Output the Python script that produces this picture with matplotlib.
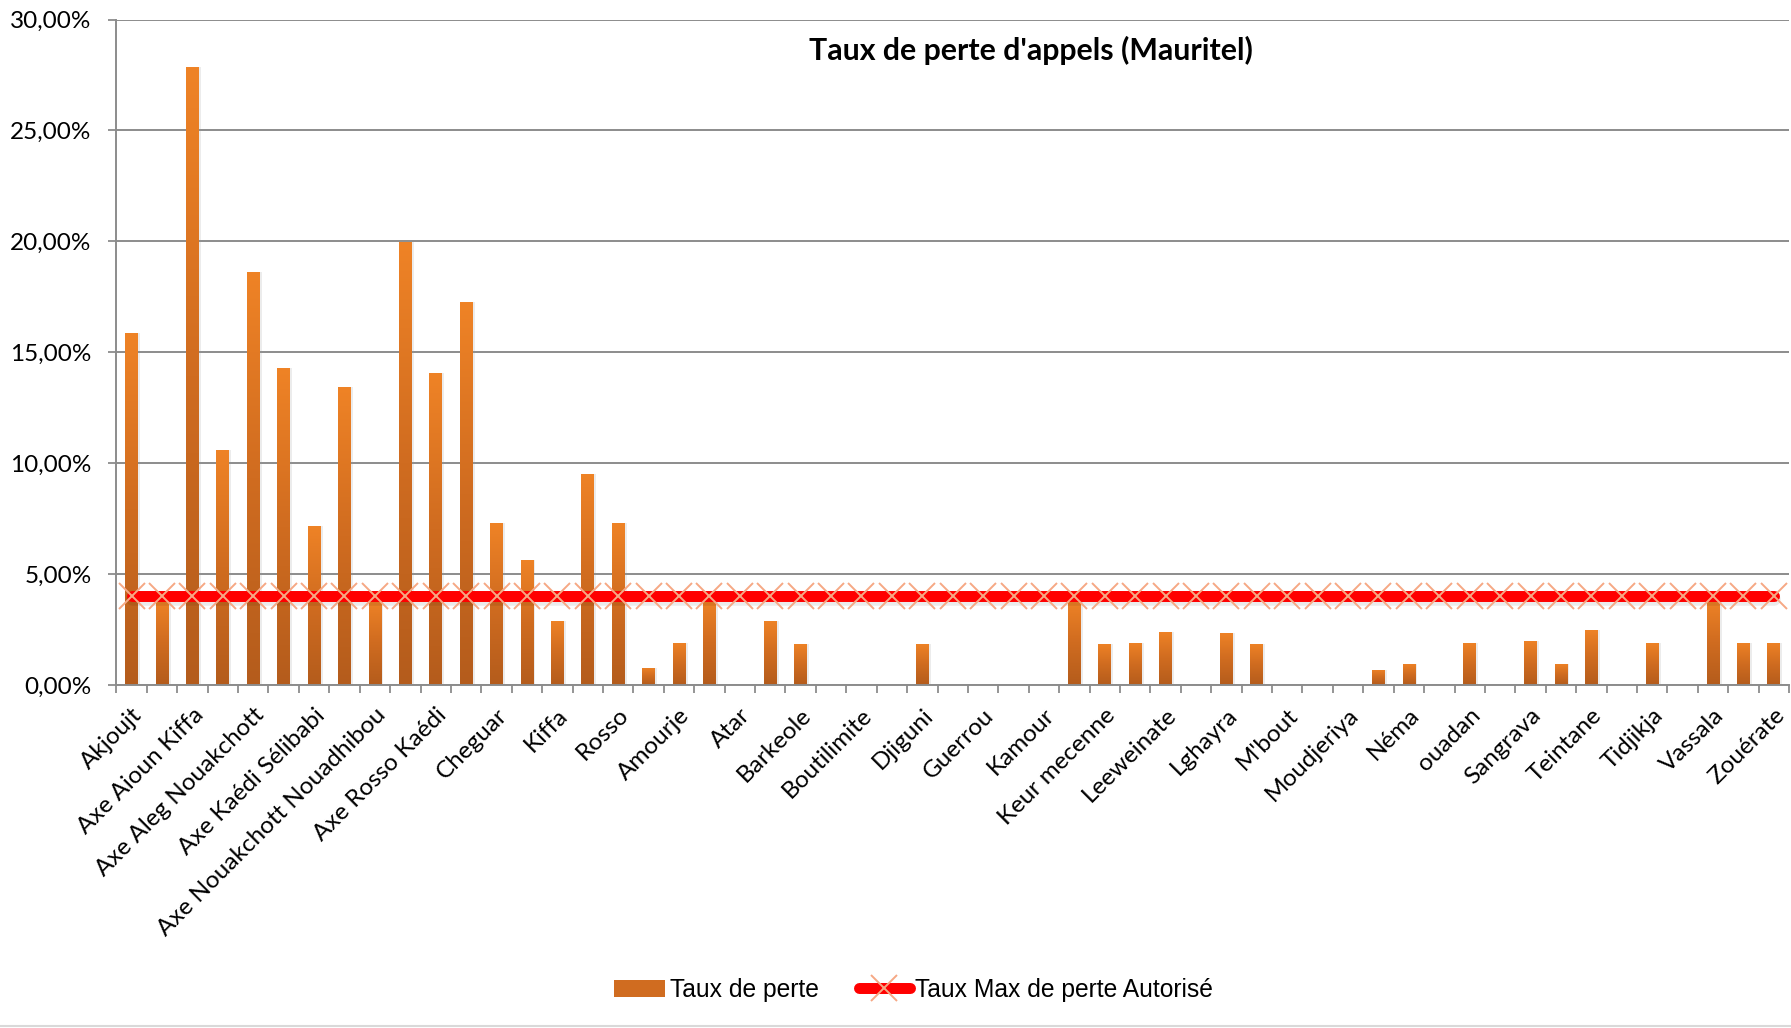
import numpy as np
import matplotlib
matplotlib.use("Agg")
import matplotlib.pyplot as plt
from matplotlib.colors import LinearSegmentedColormap
from matplotlib.patches import Patch
from matplotlib.lines import Line2D

# sites (only every other label is shown on the axis)
sites = [
    "Akjoujt", "Aleg", "Axe Aioun Kiffa", "Axe Akjoujt Atar", "Axe Aleg Nouakchott",
    "Axe Boghé Aleg", "Axe Kaédi Sélibabi", "Axe Kiffa Tidjikja", "Axe Nouakchott Nouadhibou",
    "Axe Nouakchott Rosso", "Axe Rosso Kaédi", "Boghé", "Cheguar", "Kaédi", "Kiffa",
    "Nouadhibou", "Rosso", "Aioun", "Amourje", "Aoujeft", "Atar", "Bababé", "Barkeole",
    "Bassiknou", "Boutilimite", "Chinguetti", "Djiguni", "Fdérik", "Guerrou",
    "Jidr El Mohguen", "Kamour", "Kankossa", "Keur mecenne", "Koubenni", "Leeweinate",
    "Lexeiba", "Lghayra", "Maghama", "M'bout", "Monguel", "Moudjeriya", "Nbeika", "Néma",
    "Ouad Naga", "ouadan", "R'kiz", "Sangrava", "Sélibabi", "Teintane", "Tichitt",
    "Tidjikja", "Timbédra", "Vassala", "Walata", "Zouérate",
]

# taux de perte (%)
taux_perte = [
    15.88, 3.85, 27.85, 10.60, 18.64, 14.27, 7.18, 13.45, 3.85, 19.98,
    14.08, 17.25, 7.28, 5.64, 2.89, 9.52, 7.28, 0.77, 1.91, 3.85,
    0.00, 2.90, 1.86, 0.00, 0.00, 0.00, 1.86, 0.00, 0.00, 0.00,
    0.00, 3.85, 1.86, 1.91, 2.41, 0.00, 2.36, 1.86, 0.00, 0.00,
    0.00, 0.69, 0.96, 0.00, 1.91, 0.00, 2.00, 0.96, 2.50, 0.00,
    1.91, 0.00, 3.85, 1.91, 1.91,
]

# seuil autorisé (%)
taux_max = [4.0] * len(sites)

y_ticks = [0, 5, 10, 15, 20, 25, 30]

tick_font = "Lato"
legend_font = "Liberation Sans"

fig = plt.figure(figsize=(17.91, 10.28), dpi=100)
ax = fig.add_axes([0.065, 0.3337, 0.9339, 0.6473])

x = np.arange(len(sites))
bar_w = 0.42

# soft shadow behind the bars
ax.bar(x + 0.07, taux_perte, width=bar_w, color="#9a9a9a", alpha=0.18, zorder=1)

bars = ax.bar(x, taux_perte, width=bar_w, color="none", zorder=2)

# vertical gradient inside each bar
cmap = LinearSegmentedColormap.from_list("orange_grad", ["#B45C1C", "#D06C20", "#EF8326"])
grad = np.linspace(0, 1, 256).reshape(-1, 1)
for b in bars:
    h = b.get_height()
    if h <= 0:
        continue
    x0 = b.get_x()
    im = ax.imshow(grad, extent=[x0, x0 + b.get_width(), 0, h], origin="lower",
                   aspect="auto", cmap=cmap, zorder=2)
    im.set_clip_path(b)

# red limit line with a faint shadow
ax.plot(x, np.array(taux_max) - 0.12, color="#000000", alpha=0.08, lw=9,
        solid_capstyle="round", zorder=3)
ax.plot(x, taux_max, color="#FF0000", lw=7.9, solid_capstyle="round", zorder=4,
        marker="x", markersize=19, markeredgecolor="#F6A884", markeredgewidth=1.4)

ax.set_xlim(-0.5, len(sites) - 0.5)
ax.set_ylim(0, 30)

ax.set_yticks(y_ticks)
ax.set_yticklabels([f"{v:.2f}%".replace(".", ",") for v in y_ticks],
                   fontsize=17.5, family=tick_font)
ax.yaxis.grid(True, color="#8C8C8C", lw=1.4)
ax.set_axisbelow(True)

# tick marks between categories, labels on every other category
ax.set_xticks(np.arange(-0.5, len(sites), 1.0))
ax.set_xticklabels([])
ax.set_xticks(x[::2], minor=True)
ax.set_xticklabels(sites[::2], minor=True, rotation=45, ha="right",
                   rotation_mode="anchor", fontsize=17.5, family=tick_font)
ax.tick_params(axis="x", which="major", length=6, width=1.3, color="#8C8C8C", direction="out")
ax.tick_params(axis="x", which="minor", length=0, pad=14)
ax.tick_params(axis="y", length=6, width=1.3, color="#8C8C8C", pad=12)

for s in ["top", "right"]:
    ax.spines[s].set_visible(False)
for s in ["left", "bottom"]:
    ax.spines[s].set_color("#8C8C8C")
    ax.spines[s].set_linewidth(1.4)

fig.text(0.5755, 0.951, "Taux de perte d'appels (Mauritel)", ha="center", va="center",
         fontsize=21.8, fontweight="bold", family=tick_font)

handles = [
    Patch(facecolor="#D06C20", edgecolor="none"),
    Line2D([0], [0], color="#FF0000", lw=7.9, solid_capstyle="round",
           marker="x", markersize=19, markeredgecolor="#F6A884", markeredgewidth=1.4),
]
fig.legend(handles, ["Taux de perte", "Taux Max de perte Autorisé"], loc="center",
           bbox_to_anchor=(0.51, 0.037), ncol=2, frameon=False,
           prop={"family": legend_font, "size": 17.7}, handlelength=2.1,
           handletextpad=0.2, columnspacing=1.6)

# chart border line at the bottom
fig.add_artist(Line2D([0, 1], [0.002, 0.002], color="#D9D9D9", lw=1.5))

fig.savefig("out.png", dpi=100)
